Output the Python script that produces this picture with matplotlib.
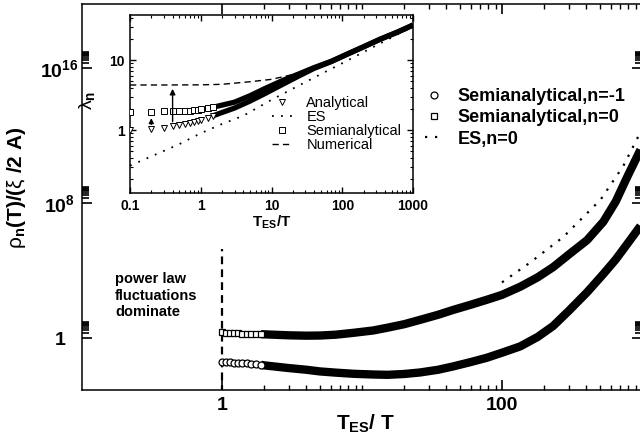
import numpy as np
import matplotlib.pyplot as plt
from matplotlib.ticker import FixedLocator, NullFormatter

plt.rcParams['font.family'] = ['Liberation Sans', 'DejaVu Sans']
plt.rcParams['mathtext.fontset'] = 'custom'
plt.rcParams['mathtext.rm'] = 'Liberation Sans'
plt.rcParams['mathtext.it'] = 'Liberation Sans:italic'
plt.rcParams['mathtext.bf'] = 'Liberation Sans:bold'

# ---- main panel: rho_n(T)/(xi/2A) vs T_ES/T ----
# open markers where they are still separated
x_mk = [1.0, 1.07, 1.14, 1.22, 1.3, 1.4, 1.5, 1.6, 1.75, 1.9]
y_n0_mk = [2.14, 2.07, 2.02, 1.96, 1.9, 1.85, 1.8, 1.76, 1.71, 1.68]
y_nm1_mk = [0.040, 0.038, 0.037, 0.035, 0.034, 0.032, 0.031, 0.030, 0.028, 0.026]
# dense part (markers merge into a band)
x_band = [1.9, 2.0, 3.0, 4.0, 5.0, 6.5, 8.7, 12, 15.2, 20, 26, 35, 45, 60, 78, 100, 135,
          180, 232, 300, 405, 530, 650, 785, 975]
y_n0 = [1.68, 1.66, 1.45, 1.38, 1.41, 1.58, 2.04, 2.8, 4.1, 6.6, 12, 24, 47, 95, 186, 363,
        1.1e3, 4.0e3, 1.6e4, 8.9e4, 6.3e5, 7.9e6, 1.26e8, 3.6e9, 1.45e11]
y_nm1 = [0.026, 0.024, 0.0166, 0.0132, 0.0105, 0.0089, 0.0076, 0.0069, 0.0066, 0.0074,
         0.0091, 0.0132, 0.021, 0.038, 0.068, 0.135, 0.32, 1.17, 5.2, 41, 513, 6.3e3,
         4.6e4, 3.8e5, 4.4e6]
x_es = [100, 158, 275, 506, 736, 975]
y_es = [2.0e3, 2.9e4, 1.0e6, 1.6e8, 1.6e10, 1.6e12]

# ---- inset: lambda_n vs T_ES/T ----
xi_sa = [0.1, 0.2, 0.3, 0.4, 0.5, 0.6, 0.7, 0.8, 0.9, 1.0, 1.25, 1.5, 2, 3, 5, 8, 15,
         25, 40, 70, 120, 200, 350, 600, 1000]
yi_sa = [1.83, 1.83, 1.84, 1.85, 1.86, 1.88, 1.9, 1.92, 1.95, 1.98, 2.05, 2.12, 2.27, 2.5,
         3.1, 3.9, 5.2, 6.4, 7.8, 9.6, 12.3, 15.5, 20, 25, 31.6]
xi_an = [0.1, 0.2, 0.3, 0.4, 0.5, 0.6, 0.7, 0.8, 0.9, 1.0, 1.25, 1.5, 2, 3, 5, 8, 15,
         25, 40, 70, 120, 200, 350, 600, 1000]
yi_an = [1.0, 1.02, 1.08, 1.14, 1.18, 1.22, 1.26, 1.30, 1.34, 1.38, 1.5, 1.6, 1.78, 2.06,
         2.6, 3.3, 4.6, 6.0, 7.6, 9.5, 12.2, 15.4, 20, 25, 31.6]
xi_es = [0.1, 0.2, 0.5, 1, 2, 4, 10, 20, 50, 100, 200, 500, 1000]
yi_es = [0.31, 0.42, 0.63, 0.9, 1.22, 1.6, 2.7, 3.9, 6.3, 9, 13, 21, 30]
xi_num = [0.1, 0.3, 1, 2, 5, 10, 20, 40, 70, 200, 1000]
yi_num = [4.4, 4.4, 4.42, 4.5, 4.9, 5.3, 6.2, 7.6, 9.6, 15.5, 31.6]

fig = plt.figure(figsize=(6.4, 4.41), dpi=100)
ax = fig.add_axes([82 / 640, 51 / 441, 560 / 640, 386 / 441])

ax.plot(x_band, y_n0, color='k', lw=6, solid_capstyle='butt', zorder=2)
ax.plot(x_band, y_nm1, color='k', lw=6, solid_capstyle='butt', zorder=2)
ax.plot(x_mk, y_nm1_mk, 'o', ms=5, mfc='white', mec='k', mew=0.9, zorder=3,
        label='Semianalytical,n=-1')
ax.plot(x_mk, y_n0_mk, 's', ms=5, mfc='white', mec='k', mew=0.9, zorder=3,
        label='Semianalytical,n=0')
ax.plot(x_es, y_es, color='k', lw=1.6, ls=(0, (1, 3.5)), label='ES,n=0')
ax.plot([1, 1], [1e-4, 2e5], color='k', lw=1.6, ls=(0, (3.5, 2.3)))

ax.set_xscale('log')
ax.set_yscale('log')
ax.set_xlim(0.1, 1000)
ax.set_ylim(10 ** -3.08, 10 ** 19.8)

ax.xaxis.set_major_locator(FixedLocator([1, 100]))
ax.xaxis.set_minor_locator(FixedLocator([k * 10.0 ** d for d in (0, 1, 2) for k in range(2, 10)] + [10]))
ax.xaxis.set_minor_formatter(NullFormatter())
ax.set_xticklabels(['1', '100'])
ax.yaxis.set_major_locator(FixedLocator([1, 1e8, 1e16]))
ax.yaxis.set_minor_locator(FixedLocator([k * 10.0 ** d for d in (0, 8, 16) for k in range(2, 10)]))
ax.yaxis.set_minor_formatter(NullFormatter())
ax.set_yticklabels(['1', r'$\mathbf{10^{8}}$', r'$\mathbf{10^{16}}$'], ha='center')

ax.tick_params(which='both', direction='in', top=True, right=True)
ax.tick_params(which='major', length=7, width=1.2, labelsize=14)
ax.tick_params(axis='x', which='minor', length=3.5, width=1)
ax.tick_params(axis='y', which='minor', length=5, width=1.2)
ax.tick_params(axis='x', pad=5)
ax.tick_params(axis='y', pad=16)
for lbl in ax.get_xticklabels() + ax.get_yticklabels():
    lbl.set_fontweight('bold')
for s in ax.spines.values():
    s.set_linewidth(1.1)

ax.set_xlabel(r'$\mathbf{T_{ES}/\ T}$', fontsize=15)
ax.xaxis.set_label_coords(0.507, -0.06)
ax.set_ylabel(r'$\mathrm{\rho}_{\mathbf{n}}\mathbf{(T)/(}\mathrm{\xi}\mathbf{\ /2\ A)}$', fontsize=15)
ax.yaxis.set_label_coords(-0.097, 0.523)

ax.text(0.059, 0.306, 'power law\nfluctuations\ndominate', transform=ax.transAxes,
        fontsize=10.5, fontweight='bold', va='top', ha='left', linespacing=1.25)

fig.legend(loc='upper left', bbox_to_anchor=(425 / 640, 1 - 88 / 441), frameon=False,
           prop={'size': 13, 'weight': 'bold'}, handlelength=1.0, handletextpad=0.8,
           labelspacing=0.24, borderpad=0, borderaxespad=0)

# ---- inset ----
axi = fig.add_axes([130 / 640, 1 - 193 / 441, 283 / 640, 178 / 441])
axi.plot(xi_num, yi_num, color='k', lw=1.0, ls=(0, (4.5, 3)), zorder=1, label='Numerical')
axi.plot(xi_es, yi_es, color='k', lw=1.3, ls=(0, (1, 4)), zorder=1, label='ES')
cut = 12
axi.plot(xi_sa[cut - 1:], yi_sa[cut - 1:], color='k', lw=3.8, solid_capstyle='butt', zorder=2)
axi.plot(xi_an[cut - 1:], yi_an[cut - 1:], color='k', lw=3.8, solid_capstyle='butt', zorder=2)
axi.plot(xi_an[:cut], yi_an[:cut], 'v', ms=4.5, mfc='white', mec='k', mew=0.7,
         zorder=3, label='Analytical')
axi.plot(xi_sa[:cut], yi_sa[:cut], 's', ms=4, mfc='white', mec='k', mew=0.7,
         zorder=3, label='Semianalytical')
axi.annotate('', xy=(0.2, 1.62), xytext=(0.2, 1.1),
             arrowprops=dict(arrowstyle='-|>', color='k', lw=1, mutation_scale=7))
axi.annotate('', xy=(0.4, 4.25), xytext=(0.4, 1.2),
             arrowprops=dict(arrowstyle='-|>', color='k', lw=1, mutation_scale=8))

axi.set_xscale('log')
axi.set_yscale('log')
axi.set_xlim(0.1, 1000)
axi.set_ylim(0.126, 44)
axi.set_xticks([0.1, 1, 10, 100, 1000])
axi.set_xticklabels(['0.1', '1', '10', '100', '1000'])
axi.set_yticks([1, 10])
axi.set_yticklabels(['1', '10'])
axi.tick_params(which='both', direction='in', top=True, right=True)
axi.tick_params(which='major', length=4, width=1, labelsize=10, pad=4)
axi.tick_params(which='minor', length=2, width=0.8)
for lbl in axi.get_xticklabels() + axi.get_yticklabels():
    lbl.set_fontweight('bold')
for s in axi.spines.values():
    s.set_linewidth(1.1)
axi.set_xlabel(r'$\mathbf{T_{ES}/T}$', fontsize=11)
axi.xaxis.set_label_coords(0.5, -0.118)
axi.set_ylabel(r'$\mathrm{\lambda}_{\mathbf{n}}$', fontsize=14)
axi.yaxis.set_label_coords(-0.117, 0.52)

h, l = axi.get_legend_handles_labels()
order = [l.index(k) for k in ['Analytical', 'ES', 'Semianalytical', 'Numerical']]
axi.legend([h[i] for i in order], [l[i] for i in order], loc='upper left',
           bbox_to_anchor=(272 / 640, 1 - 96 / 441), bbox_transform=fig.transFigure,
           frameon=False, fontsize=10.5, handlelength=1.35, handletextpad=1.0,
           labelspacing=0.0, borderpad=0, borderaxespad=0)

fig.savefig('out.png', dpi=100)
